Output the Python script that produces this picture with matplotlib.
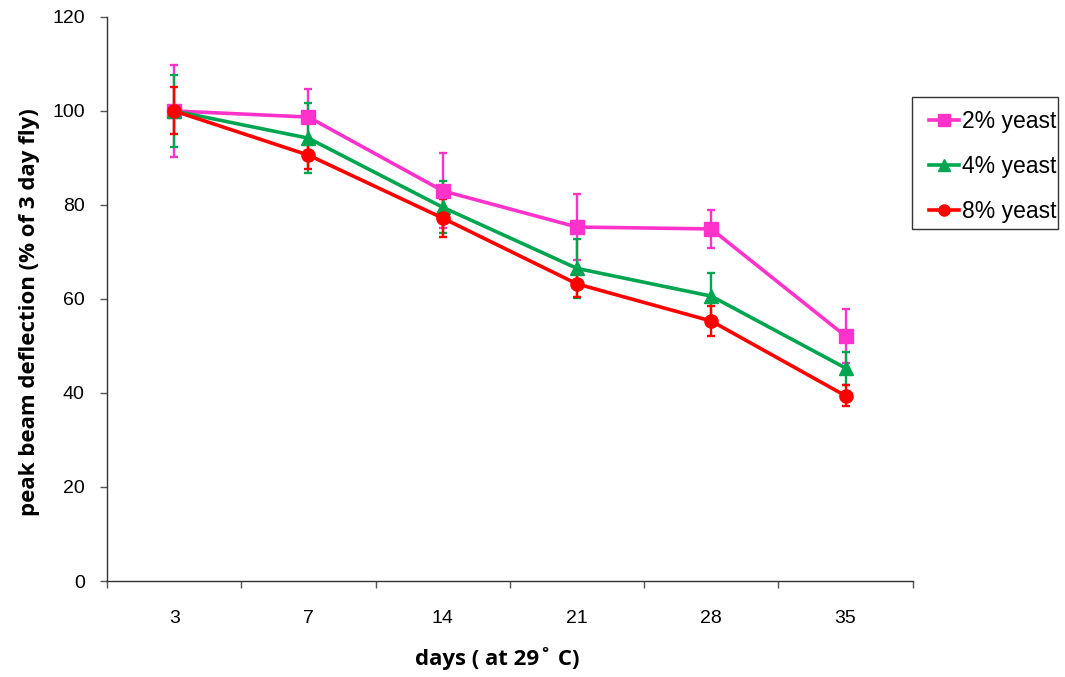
import matplotlib
matplotlib.use("Agg")
import matplotlib.pyplot as plt
from matplotlib.patches import Rectangle
import numpy as np

days = ["3", "7", "14", "21", "28", "35"]
series_names = ["2% yeast", "4% yeast", "8% yeast"]
y2 = [100, 98.7, 83.0, 75.3, 74.9, 52.1]
e2 = [9.7, 6.0, 8.0, 7.0, 4.0, 5.8]
y4 = [100, 94.2, 79.5, 66.5, 60.6, 45.3]
e4 = [7.7, 7.4, 5.5, 6.3, 5.0, 3.5]
y8 = [100, 90.6, 77.2, 63.2, 55.3, 39.4]
e8 = [5.0, 3.0, 4.0, 2.8, 3.1, 2.2]
colors = ["#FF33CC", "#00A550", "#FF0000"]
markers = ["s", "^", "o"]

plt.rcParams['font.family'] = ['Liberation Sans', 'DejaVu Sans']
W, H = 1065, 677
fig = plt.figure(figsize=(W / 100, H / 100), dpi=100)
ax = fig.add_axes([0.1005, 0.1418, 0.7565, 0.8332])

x = np.arange(len(days))
for yv, ev, c, m, n in zip([y2, y4, y8], [e2, e4, e8], colors, markers, series_names):
    ax.errorbar(x, yv, yerr=ev, color=c, marker=m, markersize=9.5, lw=2.6,
                elinewidth=1.7, capsize=3, capthick=1.7, label=n)

ax.set_xlim(-0.5, len(days) - 0.5)
ax.set_ylim(0, 120)
ax.set_yticks(np.arange(0, 121, 20))
ax.set_xticks(np.arange(-0.5, len(days), 1.0))
ax.set_xticklabels([])
ax.set_xticks(x, minor=True)
ax.set_xticklabels(days, minor=True)
ax.tick_params(axis='x', which='major', direction='out', length=5, width=1, color='#555555')
ax.tick_params(axis='x', which='minor', length=0, pad=21, labelsize=14)
ax.tick_params(axis='y', direction='out', length=5, width=1, color='#555555', labelsize=14, pad=11)
for s in ['top', 'right']:
    ax.spines[s].set_visible(False)
for s in ['left', 'bottom']:
    ax.spines[s].set_color('#333333')
    ax.spines[s].set_linewidth(1)

ax.set_xlabel("days ( at 29˚ C)", fontsize=16, fontweight='bold',
              family=['Open Sans', 'DejaVu Sans'])
ax.set_ylabel("peak beam deflection (% of 3 day fly)", fontsize=16, fontweight='bold',
              family=['Open Sans', 'DejaVu Sans'])
ax.xaxis.set_label_coords(0.484, -0.117)
ax.yaxis.set_label_coords(-0.083, 0.477)

# legend frame
fig.patches.append(Rectangle((912 / W, 1 - 229 / H), 146 / W, 132 / H, transform=fig.transFigure,
                             facecolor='white', edgecolor='#333333', lw=1, zorder=5))
handles = [plt.Line2D([0], [0], color=c, marker=m, markersize=8, lw=2.6) for c, m in zip(colors, markers)]
leg = fig.legend(handles, series_names, loc='upper left', bbox_to_anchor=(929 / W, 1 - 110 / H),
                 bbox_transform=fig.transFigure, frameon=False, fontsize=16.5,
                 labelspacing=0.95, handlelength=1.3, handletextpad=0.13, borderpad=0,
                 borderaxespad=0)
leg.set_zorder(6)

fig.savefig("out.png", dpi=100)
